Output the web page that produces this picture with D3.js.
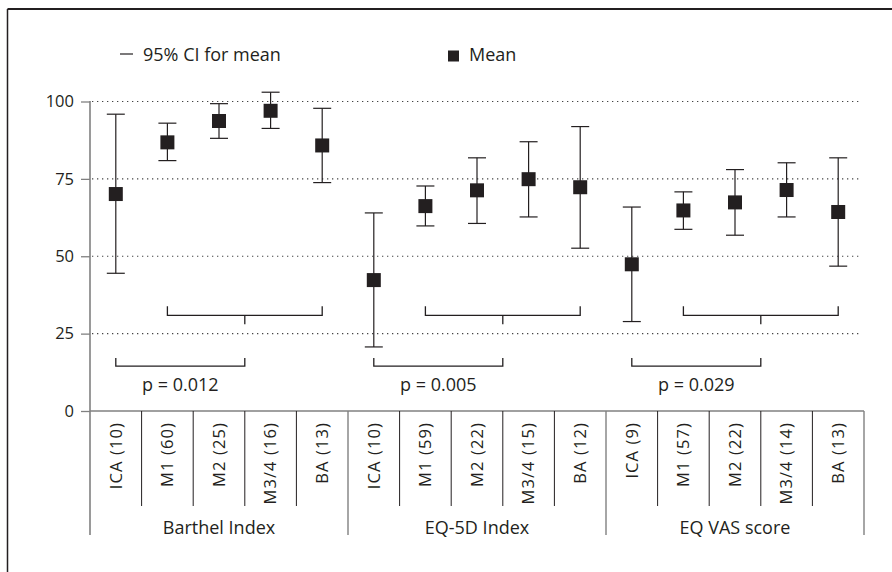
<!DOCTYPE html>
<html>
<head>
<meta charset="utf-8">
<script src="https://cdn.jsdelivr.net/npm/d3@7"></script>
<style>
  html, body { margin: 0; padding: 0; background: #fff; }
  svg { display: block; font-family: "Open Sans", "Noto Sans", sans-serif; }
</style>
</head>
<body>
<svg id="chart" width="892" height="572"></svg>
<script>
// Outcome measures (groups) and their subgroups with sample sizes
const groups = ["Barthel Index", "EQ-5D Index", "EQ VAS score"];
const subgroups = ["ICA", "M1", "M2", "M3/4", "BA"];
const sampleSizes = [
  [10, 60, 25, 16, 13],
  [10, 59, 22, 15, 12],
  [9, 57, 22, 14, 13]
];
// Means and 95% CI bounds per group / subgroup
const means = [
  [70.1, 86.8, 93.7, 97.0, 85.8],
  [42.3, 66.2, 71.3, 74.9, 72.3],
  [47.4, 64.8, 67.4, 71.4, 64.3]
];
const ciLower = [
  [44.5, 80.9, 88.1, 91.3, 73.8],
  [20.7, 59.8, 60.6, 62.7, 52.6],
  [28.9, 58.7, 56.8, 62.7, 46.8]
];
const ciUpper = [
  [95.9, 93.0, 99.3, 103.0, 97.8],
  [64.0, 72.7, 81.8, 87.0, 91.9],
  [65.9, 70.8, 78.0, 80.2, 81.8]
];
const pValues = ["p = 0.012", "p = 0.005", "p = 0.029"];
const yTicks = [0, 25, 50, 75, 100];
// bracket levels (in y units) for the two comparison brackets
const upperBracketLevel = 30.9;
const lowerBracketLevel = 14.5;

const svg = d3.select("#chart");
const ink = "#231f20";
const grey = "#808080";

// flat list of categories
const cats = [];
groups.forEach((g, gi) => subgroups.forEach((s, si) => {
  cats.push({
    key: g + "|" + s, gi, si,
    label: `${s} (${sampleSizes[gi][si]})`,
    mean: means[gi][si], lo: ciLower[gi][si], hi: ciUpper[gi][si]
  });
}));

const x = d3.scaleBand().domain(cats.map(d => d.key)).range([90, 864]).padding(0);
const y = d3.scaleLinear().domain([0, 100]).range([411, 101.5]);
const bw = x.bandwidth();
const cx = k => x(k) + bw / 2;

// outer frame (top and left edges)
svg.append("line").attr("x1", 7.5).attr("x2", 892).attr("y1", 9).attr("y2", 9)
  .attr("stroke", ink).attr("stroke-width", 2);
svg.append("line").attr("x1", 7.5).attr("x2", 7.5).attr("y1", 9).attr("y2", 572)
  .attr("stroke", ink).attr("stroke-width", 1.5);

// dotted reference lines
svg.append("g").selectAll("line").data(yTicks.filter(v => v > 0)).join("line")
  .attr("x1", 92).attr("x2", 860)
  .attr("y1", d => y(d)).attr("y2", d => y(d))
  .attr("stroke", "#444").attr("stroke-width", 1.2)
  .attr("stroke-dasharray", "1.3,3.7");

// y axis
const yAxis = d3.axisLeft(y).tickValues(yTicks).tickSize(9).tickPadding(7);
const gy = svg.append("g").attr("transform", "translate(90,0)").call(yAxis);
gy.select(".domain").remove();
gy.selectAll(".tick line").attr("stroke", grey).attr("stroke-width", 1.3);
gy.selectAll(".tick text").attr("fill", ink).style("font-size", "16.5px")
  .style("font-family", "'Open Sans', sans-serif");
svg.append("line").attr("x1", 90).attr("x2", 90).attr("y1", 101).attr("y2", 535)
  .attr("stroke", grey).attr("stroke-width", 1.6);

// x baseline
svg.append("line").attr("x1", 90).attr("x2", 864).attr("y1", y(0)).attr("y2", y(0))
  .attr("stroke", grey).attr("stroke-width", 1.4);

// category dividers and group dividers
const gx = svg.append("g");
cats.forEach((d, i) => {
  if (i === 0) return;
  const xx = x(d.key);
  const isGroup = d.si === 0;
  gx.append("line").attr("x1", xx).attr("x2", xx)
    .attr("y1", y(0)).attr("y2", isGroup ? 535 : 506)
    .attr("stroke", isGroup ? grey : ink).attr("stroke-width", isGroup ? 1.4 : 1);
});
gx.append("line").attr("x1", 864).attr("x2", 864).attr("y1", y(0)).attr("y2", 535)
  .attr("stroke", grey).attr("stroke-width", 1.4);

// rotated category labels
gx.selectAll("text.cat").data(cats).join("text").attr("class", "cat")
  .attr("transform", d => `translate(${cx(d.key)},422) rotate(-90)`)
  .attr("text-anchor", "end").attr("dy", "0.35em")
  .attr("fill", ink).style("font-size", "16.5px").style("letter-spacing", "1.1px")
  .text(d => d.label);

// group labels
gx.selectAll("text.grp").data(groups).join("text").attr("class", "grp")
  .attr("x", (g, gi) => (x(g + "|" + subgroups[0]) + x(g + "|" + subgroups[4]) + bw) / 2)
  .attr("y", 534).attr("text-anchor", "middle")
  .attr("fill", ink).style("font-size", "18px")
  .text(d => d);

// error bars
const capW = 9;
const eb = svg.append("g").attr("stroke", ink).attr("stroke-width", 1.2);
cats.forEach(d => {
  const c = cx(d.key);
  eb.append("line").attr("x1", c).attr("x2", c).attr("y1", y(d.hi)).attr("y2", y(d.lo));
  eb.append("line").attr("x1", c - capW).attr("x2", c + capW).attr("y1", y(d.hi)).attr("y2", y(d.hi));
  eb.append("line").attr("x1", c - capW).attr("x2", c + capW).attr("y1", y(d.lo)).attr("y2", y(d.lo));
});

// mean markers
const ms = 14;
svg.append("g").selectAll("rect").data(cats).join("rect")
  .attr("x", d => cx(d.key) - ms / 2).attr("y", d => y(d.mean) - ms / 2)
  .attr("width", ms).attr("height", ms).attr("fill", ink);

// comparison brackets and p-values
const br = svg.append("g").attr("fill", "none").attr("stroke", ink).attr("stroke-width", 1.3);
groups.forEach((g, gi) => {
  const k = s => g + "|" + s;
  const ux1 = cx(k("M1")), ux2 = cx(k("BA")), umid = (ux1 + ux2) / 2;
  const uy = y(upperBracketLevel);
  br.append("path").attr("d", `M${ux1},${uy - 9}V${uy}H${ux2}V${uy - 9}`);
  br.append("line").attr("x1", umid).attr("x2", umid).attr("y1", uy).attr("y2", uy + 9);
  const lx1 = cx(k("ICA")), lx2 = umid;
  const ly = y(lowerBracketLevel);
  br.append("path").attr("d", `M${lx1},${ly - 8}V${ly}H${lx2}V${ly - 8}`);
  svg.append("text").attr("x", (lx1 + lx2) / 2).attr("y", ly + 25)
    .attr("text-anchor", "middle").attr("fill", ink).style("font-size", "18px")
    .text(pValues[gi]);
});

// legend
const lg = svg.append("g");
lg.append("line").attr("x1", 120).attr("x2", 133).attr("y1", 54).attr("y2", 54)
  .attr("stroke", ink).attr("stroke-width", 1.2);
lg.append("text").attr("x", 143).attr("y", 61).attr("fill", ink).style("font-size", "18px")
  .text("95% CI for mean");
lg.append("rect").attr("x", 448).attr("y", 50.5).attr("width", 11).attr("height", 11).attr("fill", ink);
lg.append("text").attr("x", 469).attr("y", 61).attr("fill", ink).style("font-size", "18px")
  .text("Mean");
</script>
</body>
</html>
